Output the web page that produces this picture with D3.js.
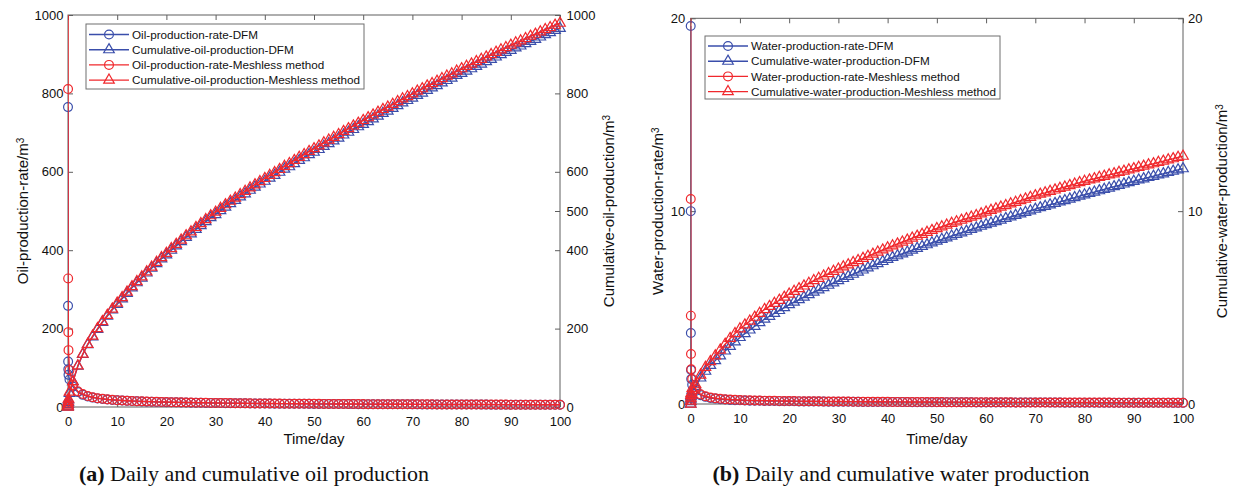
<!DOCTYPE html>
<html><head><meta charset="utf-8">
<script src="https://cdn.jsdelivr.net/npm/d3@7"></script>
<style>
body{margin:0;background:#fff;}
svg text{font-family:"Liberation Sans",Arial,sans-serif;fill:#111;}
</style></head><body>
<svg id="c" width="1233" height="491"></svg>
<script>
// ---------- DATA ----------
const earlyT = [0, 0.01, 0.03, 0.06, 0.1, 0.3];
const days = d3.range(1, 101);
const times = earlyT.concat(days);
const xTicks = [0,10,20,30,40,50,60,70,80,90,100];
const oilLeftTicks = [0,200,400,600,800,1000];
const oilRightTicks = [0,200,400,500,600,800,1000];
const waterLeftTicks = [0,10,20];
const waterRightTicks = [0,10,20];

const oilRateDFM = [765,258,116,96,82,70,
52,38,31,27,24,22,20.5,19,18,17.2,
16.4,15.7,15.1,14.6,14.1,13.7,13.3,12.9,12.6,12.3,
12,11.8,11.5,11.3,11.1,10.9,10.7,10.5,10.3,10.1,
10,9.8,9.7,9.5,9.4,9.3,9.2,9,8.9,8.8,
8.7,8.6,8.5,8.4,8.3,8.2,8.2,8.1,8,7.9,
7.8,7.8,7.7,7.6,7.6,7.5,7.4,7.4,7.3,7.2,
7.2,7.1,7.1,7,7,6.9,6.9,6.8,6.8,6.7,
6.7,6.6,6.6,6.5,6.5,6.4,6.4,6.4,6.3,6.3,
6.2,6.2,6.2,6.1,6.1,6,6,6,5.9,5.9,
5.9,5.8,5.8,5.8,5.7,5.7,5.7,5.6,5.6,5.6];
const oilRateMeshless = [1500,811,328,191,145,94,
56,40,33,28,25,22.5,21,19.5,18.5,17.5,
16.7,16,15.4,14.9,14.4,14,13.6,13.2,12.9,12.6,
12.3,12,11.8,11.5,11.3,11.1,10.9,10.7,10.5,10.3,
10.2,10,9.9,9.7,9.6,9.5,9.3,9.2,9.1,9,
8.9,8.8,8.7,8.6,8.5,8.4,8.3,8.2,8.2,8.1,
8,7.9,7.9,7.8,7.7,7.7,7.6,7.5,7.5,7.4,
7.3,7.3,7.2,7.2,7.1,7.1,7,7,6.9,6.9,
6.8,6.8,6.7,6.7,6.6,6.6,6.5,6.5,6.5,6.4,
6.4,6.3,6.3,6.3,6.2,6.2,6.1,6.1,6.1,6,
6,6,5.9,5.9,5.9,5.8,5.8,5.8,5.7,5.7];
const oilCumDFM = [0,2,7,12,18,35,
65,104,134,159,179,198,216,232,248,262,
276,290,304,317,329,342,354,366,378,388,
400,411,422,433,442,453,463,473,483,491,
501,510,519,527,536,544,553,561,569,576,
584,591,599,607,613,621,629,636,644,650,
657,665,672,679,686,694,701,708,715,721,
728,735,742,749,755,762,769,776,782,788,
795,801,808,814,820,827,833,839,846,851,
857,863,869,875,881,887,893,899,905,910,
916,921,927,933,938,944,950,955,961,966];
const oilCumMeshless = [0,3,8,14,20,38,
65,105,135,160,181,200,218,234,250,265,
279,293,307,320,332,345,357,369,381,392,
404,415,426,437,447,458,468,478,488,497,
507,516,525,533,542,550,559,567,575,583,
591,598,606,614,621,629,637,644,652,659,
666,674,681,688,695,703,710,717,724,731,
738,745,752,759,765,772,779,786,792,799,
806,812,819,825,831,838,844,850,857,863,
869,875,881,887,893,899,905,911,917,923,
929,934,940,946,951,957,963,968,974,979];

const waterRateDFM = [19.6,10.0,3.68,1.76,1.3,1.0,
0.68,0.46,0.37,0.31,0.28,0.25,0.23,0.21,0.2,0.19,
0.184,0.175,0.17,0.166,0.161,0.156,0.152,0.147,0.144,0.142,
0.139,0.136,0.133,0.131,0.129,0.126,0.124,0.122,0.121,0.119,
0.117,0.115,0.113,0.111,0.11,0.109,0.107,0.106,0.104,0.103,
0.101,0.1,0.099,0.098,0.097,0.096,0.095,0.094,0.092,0.091,
0.09,0.089,0.088,0.087,0.086,0.086,0.085,0.084,0.083,0.082,
0.081,0.081,0.08,0.079,0.078,0.077,0.077,0.076,0.075,0.075,
0.075,0.074,0.073,0.073,0.072,0.071,0.071,0.07,0.069,0.069,
0.068,0.068,0.067,0.066,0.066,0.065,0.065,0.064,0.064,0.063,
0.063,0.063,0.063,0.062,0.062,0.061,0.061,0.06,0.06,0.059];
const waterRateMeshless = [25,10.63,4.58,2.59,1.8,1.3,
0.75,0.5,0.4,0.34,0.3,0.27,0.25,0.23,0.22,0.21,
0.2,0.19,0.185,0.18,0.175,0.17,0.165,0.16,0.157,0.154,
0.151,0.148,0.145,0.142,0.14,0.137,0.135,0.133,0.131,0.129,
0.127,0.125,0.123,0.121,0.12,0.118,0.116,0.115,0.113,0.112,
0.11,0.109,0.108,0.106,0.105,0.104,0.103,0.102,0.1,0.099,
0.098,0.097,0.096,0.095,0.094,0.093,0.092,0.091,0.09,0.089,
0.088,0.088,0.087,0.086,0.085,0.084,0.084,0.083,0.082,0.081,
0.081,0.08,0.079,0.079,0.078,0.077,0.077,0.076,0.075,0.075,
0.074,0.074,0.073,0.072,0.072,0.071,0.071,0.07,0.07,0.069,
0.069,0.068,0.068,0.067,0.067,0.066,0.066,0.065,0.065,0.064];
const waterCumDFM = [0,0.12,0.25,0.38,0.48,0.7,
0.9,1.35,1.7,2.0,2.25,2.5,2.75,2.99,3.22,3.45,
3.65,3.84,4.03,4.22,4.4,4.55,4.7,4.85,5.0,5.15,
5.28,5.41,5.54,5.67,5.8,5.92,6.04,6.16,6.28,6.4,
6.51,6.62,6.73,6.84,6.95,7.06,7.17,7.28,7.39,7.5,
7.6,7.69,7.79,7.88,7.98,8.07,8.17,8.26,8.36,8.45,
8.54,8.62,8.71,8.79,8.88,8.96,9.05,9.13,9.22,9.3,
9.38,9.46,9.54,9.62,9.7,9.78,9.86,9.94,10.02,10.1,
10.18,10.25,10.33,10.4,10.48,10.55,10.63,10.7,10.78,10.85,
10.92,10.99,11.06,11.13,11.2,11.27,11.34,11.41,11.48,11.55,
11.62,11.68,11.75,11.81,11.88,11.94,12.01,12.07,12.14,12.2];
const waterCumMeshless = [0,0.15,0.3,0.45,0.55,0.8,
1.0,1.5,1.9,2.2,2.5,2.8,3.1,3.4,3.65,3.9,
4.1,4.3,4.5,4.7,4.9,5.06,5.22,5.38,5.54,5.7,
5.84,5.98,6.12,6.26,6.4,6.52,6.64,6.76,6.88,7.0,
7.11,7.22,7.33,7.44,7.55,7.66,7.77,7.88,7.99,8.1,
8.2,8.3,8.4,8.5,8.6,8.7,8.8,8.9,9.0,9.1,
9.19,9.28,9.37,9.45,9.53,9.61,9.69,9.77,9.86,9.95,
10.04,10.12,10.21,10.29,10.38,10.46,10.55,10.63,10.72,10.8,
10.88,10.95,11.03,11.1,11.18,11.25,11.33,11.4,11.48,11.55,
11.62,11.68,11.75,11.81,11.88,11.94,12.01,12.07,12.14,12.2,
12.27,12.33,12.4,12.46,12.53,12.59,12.66,12.72,12.79,12.85];

const BLUE = "#3a4eab", RED = "#f0282d", AXIS = "#5e5e5e";

// ---------- DRAW ----------
const svg = d3.select("#c");
let clipN = 0;

function panel(cfg) {
  const xS = d3.scaleLinear().domain([0,100]).range([cfg.x0, cfg.x1]);
  const yL = d3.scaleLinear().domain([0,cfg.yMax]).range([cfg.yBot, cfg.yTop]);
  const yR = d3.scaleLinear().domain([0,cfg.yMax]).range([cfg.yBot, cfg.yTop]);
  const g = svg.append("g");
  const id = "clip" + (clipN++);
  svg.append("clipPath").attr("id", id).append("rect")
    .attr("x", cfg.x0).attr("y", cfg.yTop).attr("width", cfg.x1-cfg.x0).attr("height", cfg.yBot-cfg.yTop);

  const fmt = d3.format("d");
  const ax = (a) => a.tickSizeOuter(0).tickSize(-5);
  const gb = g.append("g").attr("transform", `translate(0,${cfg.yBot})`)
    .call(ax(d3.axisBottom(xS).tickValues(xTicks).tickFormat(fmt)).tickPadding(9.5));
  const gt = g.append("g").attr("transform", `translate(0,${cfg.yTop})`)
    .call(ax(d3.axisTop(xS).tickValues(xTicks)).tickFormat(""));
  const gl = g.append("g").attr("transform", `translate(${cfg.x0},0)`)
    .call(ax(d3.axisLeft(yL).tickValues(cfg.leftTicks).tickFormat(fmt)).tickPadding(cfg.padL));
  const gr = g.append("g").attr("transform", `translate(${cfg.x1},0)`)
    .call(ax(d3.axisRight(yR).tickValues(cfg.rightTicks).tickFormat(fmt)).tickPadding(cfg.padR));
  [gb,gt,gl,gr].forEach(s => {
    s.select(".domain").remove();
    s.selectAll(".tick line").attr("stroke", AXIS);
    s.selectAll(".tick text").attr("font-size", 13).attr("font-family", '"Liberation Sans",Arial,sans-serif').attr("fill","#111");
  });
  g.append("rect").attr("x", cfg.x0).attr("y", cfg.yTop)
    .attr("width", cfg.x1-cfg.x0).attr("height", cfg.yBot-cfg.yTop)
    .attr("fill","none").attr("stroke", AXIS).attr("stroke-width", 1);

  const tri = d3.symbol(d3.symbolTriangle, 48);
  cfg.series.forEach(s => {
    const ys = s.axis === "L" ? yL : yR;
    const pts = s.t.map((t,i) => [t, s.v[i]]);
    g.append("path").datum(pts).attr("clip-path", `url(#${id})`)
      .attr("fill","none").attr("stroke", s.color).attr("stroke-width", 1.4)
      .attr("d", d3.line().x(d => xS(d[0])).y(d => ys(d[1])));
    const inPts = pts.filter(d => d[1] <= cfg.yMax);
    if (s.marker === "o") {
      g.append("g").selectAll("circle").data(inPts).join("circle")
        .attr("cx", d => xS(d[0])).attr("cy", d => ys(d[1])).attr("r", 4.4)
        .attr("fill","none").attr("stroke", s.color).attr("stroke-width", 1.2);
    } else {
      g.append("g").selectAll("path").data(inPts).join("path")
        .attr("transform", d => `translate(${xS(d[0])},${ys(d[1])})`)
        .attr("d", tri()).attr("fill","none").attr("stroke", s.color).attr("stroke-width", 1.2);
    }
  });

  g.append("text").attr("x", (cfg.x0+cfg.x1)/2).attr("y", 444).attr("text-anchor","middle")
    .attr("font-size", 15).text("Time/day");
  const ylab = (x, txt) => {
    const t = g.append("text").attr("transform", `translate(${x},${(cfg.yTop+cfg.yBot)/2}) rotate(-90)`)
      .attr("text-anchor","middle").attr("font-size", 15);
    t.append("tspan").text(txt);
    t.append("tspan").attr("dy", "-0.45em").attr("font-size", 10).text("3");
  };
  ylab(cfg.labLx, cfg.labL);
  ylab(cfg.labRx, cfg.labR);

  const L = cfg.legend;
  const lg = g.append("g");
  lg.append("rect").attr("x", L.x).attr("y", L.y).attr("width", L.w).attr("height", L.h)
    .attr("fill","#fff").attr("stroke","#6f6f6f").attr("stroke-width",1);
  cfg.series.forEach((s,i) => {
    const y = L.row0 + i*L.dy;
    lg.append("line").attr("x1", L.lx0).attr("x2", L.lx1).attr("y1", y).attr("y2", y)
      .attr("stroke", s.color).attr("stroke-width", 1.4);
    const mx = (L.lx0+L.lx1)/2;
    if (s.marker === "o") {
      lg.append("circle").attr("cx", mx).attr("cy", y).attr("r", 4.4)
        .attr("fill","none").attr("stroke", s.color).attr("stroke-width", 1.2);
    } else {
      lg.append("path").attr("transform", `translate(${mx},${y})`).attr("d", tri())
        .attr("fill","none").attr("stroke", s.color).attr("stroke-width", 1.2);
    }
    lg.append("text").attr("x", L.tx).attr("y", y).attr("dy","0.36em")
      .attr("font-size", 11.7).text(s.name);
  });

  const cap = svg.append("text").attr("x", cfg.capX).attr("y", 481).attr("text-anchor","middle")
    .style("font-family", '"Liberation Serif","Times New Roman",serif').attr("font-size", 22).attr("fill","#111");
  cap.append("tspan").attr("font-weight","bold").text(cfg.capB);
  cap.append("tspan").text(cfg.capT);
}

panel({
  x0: 68, x1: 560, yTop: 15, yBot: 407, yMax: 1000,
  leftTicks: oilLeftTicks, rightTicks: oilRightTicks, padL: 4.5, padR: 6.5,
  labL: "Oil-production-rate/m", labR: "Cumulative-oil-production/m", labLx: 28, labRx: 614,
  series: [
    {name:"Oil-production-rate-DFM", t: times, v: oilRateDFM, color: BLUE, marker:"o", axis:"L"},
    {name:"Cumulative-oil-production-DFM", t: times, v: oilCumDFM, color: BLUE, marker:"^", axis:"R"},
    {name:"Oil-production-rate-Meshless method", t: times, v: oilRateMeshless, color: RED, marker:"o", axis:"L"},
    {name:"Cumulative-oil-production-Meshless method", t: times, v: oilCumMeshless, color: RED, marker:"^", axis:"R"}
  ],
  legend: {x: 86, y: 24, w: 278, h: 65, row0: 34.5, dy: 15.2, lx0: 89, lx1: 129, tx: 132},
  capX: 254, capB: "(a)", capT: " Daily and cumulative oil production"
});

panel({
  x0: 690.7, x1: 1183, yTop: 18.3, yBot: 404, yMax: 20,
  leftTicks: waterLeftTicks, rightTicks: waterRightTicks, padL: 5.5, padR: 5,
  labL: "Water-production-rate/m", labR: "Cumulative-water-production/m", labLx: 663, labRx: 1227,
  series: [
    {name:"Water-production-rate-DFM", t: times, v: waterRateDFM, color: BLUE, marker:"o", axis:"L"},
    {name:"Cumulative-water-production-DFM", t: times, v: waterCumDFM, color: BLUE, marker:"^", axis:"R"},
    {name:"Water-production-rate-Meshless method", t: times, v: waterRateMeshless, color: RED, marker:"o", axis:"L"},
    {name:"Cumulative-water-production-Meshless method", t: times, v: waterCumMeshless, color: RED, marker:"^", axis:"R"}
  ],
  legend: {x: 705, y: 36, w: 295, h: 63, row0: 46, dy: 15.2, lx0: 708, lx1: 748, tx: 751},
  capX: 901, capB: "(b)", capT: " Daily and cumulative water production"
});
</script>
</body></html>
